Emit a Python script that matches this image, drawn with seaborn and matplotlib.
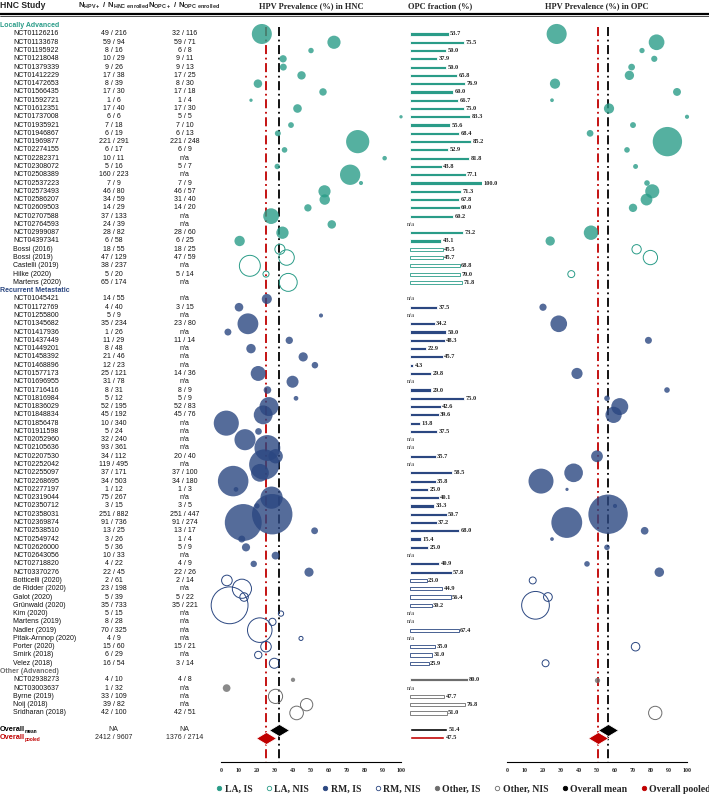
import numpy as np
import pandas as pd
import matplotlib
matplotlib.use("Agg")
import matplotlib.pyplot as plt
from matplotlib.lines import Line2D
from matplotlib.font_manager import FontProperties
import seaborn as sns

# ── Data ─────────────────────────────────────────────────────────────────────
names_la = ["NCT01126216", "NCT01133678", "NCT01195922", "NCT01218048", "NCT01379339",
            "NCT01412229", "NCT01472653", "NCT01566435", "NCT01592721", "NCT01612351",
            "NCT01737008", "NCT01935921", "NCT01946867", "NCT01969877", "NCT02274155",
            "NCT02282371", "NCT02308072", "NCT02508389", "NCT02537223", "NCT02573493",
            "NCT02586207", "NCT02609503", "NCT02707588", "NCT02764593", "NCT02999087",
            "NCT04397341", "Bossi (2016)", "Bossi (2019)", "Castelli (2019)", "Hilke (2020)",
            "Martens (2020)"]
hpv_hnc_la = [49, 59, 8, 10, 9, 17, 8, 17, 1, 17, 6, 7, 6, 221, 6, 10, 5, 160, 7, 46,
              34, 14, 37, 24, 28, 6, 18, 47, 38, 5, 65]
n_hnc_la = [216, 94, 16, 29, 26, 38, 39, 30, 6, 40, 6, 18, 19, 291, 17, 11, 16, 223, 9, 80,
            59, 29, 133, 39, 82, 58, 55, 129, 237, 20, 174]
hpv_opc_la = [32, 59, 6, 9, 9, 17, 8, 17, 1, 17, 5, 7, 6, 221, 6, None, 5, None, 7, 46,
              31, 14, None, None, 28, 6, 18, 47, None, 5, None]
n_opc_la = [116, 71, 8, 11, 13, 25, 30, 18, 4, 30, 5, 10, 13, 248, 9, None, 7, None, 9, 57,
            40, 20, None, None, 60, 25, 25, 59, None, 14, None]
frac_la = [53.7, 75.5, 50.0, 37.9, 50.0, 65.8, 76.9, 60.0, 66.7, 75.0, 83.3, 55.6, 68.4,
           85.2, 52.9, 81.8, 43.8, 77.1, 100.0, 71.3, 67.8, 69.0, 60.2, None, 73.2, 43.1,
           45.5, 45.7, 68.8, 70.0, 71.8]
nis_la = [False] * 26 + [True] * 5

names_rm = ["NCT01045421", "NCT01172769", "NCT01255800", "NCT01345682", "NCT01417936",
            "NCT01437449", "NCT01449201", "NCT01458392", "NCT01468896", "NCT01577173",
            "NCT01696955", "NCT01716416", "NCT01816984", "NCT01836029", "NCT01848834",
            "NCT01856478", "NCT01911598", "NCT02052960", "NCT02105636", "NCT02207530",
            "NCT02252042", "NCT02255097", "NCT02268695", "NCT02277197", "NCT02319044",
            "NCT02350712", "NCT02358031", "NCT02369874", "NCT02538510", "NCT02549742",
            "NCT02626000", "NCT02643056", "NCT02718820", "NCT03370276", "Botticelli (2020)",
            "de Ridder (2020)", "Galot (2020)", "Grünwald (2020)", "Kim (2020)",
            "Martens (2019)", "Nadler (2019)", "Pitak-Arnnop (2020)", "Porter (2020)",
            "Smirk (2018)", "Velez (2018)"]
hpv_hnc_rm = [14, 4, 5, 35, 1, 11, 8, 21, 12, 25, 31, 8, 5, 52, 45, 10, 5, 32, 93, 34,
              119, 37, 34, 1, 75, 3, 251, 91, 13, 3, 5, 10, 4, 22, 2, 23, 5, 35, 5, 8,
              70, 4, 15, 6, 16]
n_hnc_rm = [55, 40, 9, 234, 26, 29, 48, 46, 23, 121, 78, 31, 12, 195, 192, 340, 24, 240,
            361, 112, 495, 171, 503, 12, 267, 15, 882, 736, 25, 26, 36, 33, 22, 45, 61,
            198, 39, 733, 15, 28, 325, 9, 60, 29, 54]
hpv_opc_rm = [None, 3, None, 23, None, 11, None, None, None, 14, None, 8, 5, 52, 45, None,
              None, None, None, 20, None, 37, 34, 1, None, 3, 251, 91, 13, 1, 5, None, 4,
              22, 2, None, 5, 35, None, None, None, None, 15, None, 3]
n_opc_rm = [None, 15, None, 80, None, 14, None, None, None, 36, None, 9, 9, 83, 76, None,
            None, None, None, 40, None, 100, 180, 3, None, 5, 447, 274, 17, 4, 9, None, 9,
            26, 14, None, 22, 221, None, None, None, None, 21, None, 14]
frac_rm = [None, 37.5, None, 34.2, 50.0, 48.3, 22.9, 45.7, 4.3, 29.8, None, 29.0, 75.0,
           42.6, 39.6, 13.8, 37.5, None, None, 35.7, None, 58.5, 35.8, 25.0, 40.1, 33.3,
           50.7, 37.2, 68.0, 15.4, 25.0, None, 40.9, 57.8, 23.0, 44.9, 56.4, 30.2, None,
           None, 67.4, None, 35.0, 31.0, 25.9]
nis_rm = [False] * 34 + [True] * 11

names_ot = ["NCT02938273", "NCT03003637", "Byrne (2019)", "Noij (2018)", "Sridharan (2018)"]
hpv_hnc_ot = [4, 1, 33, 39, 42]
n_hnc_ot = [10, 32, 109, 82, 100]
hpv_opc_ot = [4, None, None, None, 42]
n_opc_ot = [8, None, None, None, 51]
frac_ot = [80.0, None, 47.7, 76.8, 51.0]
nis_ot = [False, False, True, True, True]

# overall rows
mean_hnc, mean_opc, mean_frac = 32.4, 55.9, 51.4
pooled_hnc_n, pooled_opc_n = (2412, 9607), (1376, 2714)
pooled_frac = 47.5

# ── Style ────────────────────────────────────────────────────────────────────
sns.set_theme(style="white")
plt.rcParams["font.family"] = ["Liberation Sans", "DejaVu Sans"]
plt.rcParams["mathtext.fontset"] = "custom"
plt.rcParams["mathtext.rm"] = "Liberation Sans"
plt.rcParams["mathtext.bf"] = "Liberation Sans:bold"

COL = {"LA": "#2a9c88", "RM": "#2b4781", "OT": "#6d6d6d"}
RED = "#c00000"
SERIF = "Liberation Serif"

W, H = 709, 800
ROW0, DY = 25.7, 8.28          # pixel y of row 0 and row pitch
Y_TOP, Y_AX = 16, 762


def rowy(i):
    return ROW0 + DY * i


# ── Build table ──────────────────────────────────────────────────────────────
records = []
sections = [
    ("LA", "Locally Advanced", names_la, hpv_hnc_la, n_hnc_la, hpv_opc_la, n_opc_la, frac_la, nis_la),
    ("RM", "Recurrent Metastatic", names_rm, hpv_hnc_rm, n_hnc_rm, hpv_opc_rm, n_opc_rm, frac_rm, nis_rm),
    ("OT", "Other (Advanced)", names_ot, hpv_hnc_ot, n_hnc_ot, hpv_opc_ot, n_opc_ot, frac_ot, nis_ot),
]
headers = []
row = 0
for key, title, nm, a, b, c, d, f, nis in sections:
    headers.append((row, key, title))
    row += 1
    for i in range(len(nm)):
        records.append(dict(sec=key, name=nm[i], row=row, hpv_hnc=a[i], n_hnc=b[i],
                            hpv_opc=c[i], n_opc=d[i], frac=f[i], nis=nis[i]))
        row += 1
df = pd.DataFrame(records)
for col in ["hpv_opc", "n_opc", "frac"]:
    df[col] = pd.to_numeric(df[col])
df["hnc_prev"] = df["hpv_hnc"] / df["n_hnc"] * 100
df["opc_prev"] = df["hpv_opc"] / df["n_opc"] * 100
ROW_MEAN, ROW_POOL = row + 1, row + 2

# ── Figure ───────────────────────────────────────────────────────────────────
fig = plt.figure(figsize=(W / 100, H / 100), dpi=100)


def px_axes(x0, x1):
    return fig.add_axes([x0 / W, 1 - Y_AX / H, (x1 - x0) / W, (Y_AX - Y_TOP) / H])


tax = fig.add_axes([0, 0, 1, 1])
tax.set_xlim(0, W)
tax.set_ylim(H, 0)
tax.axis("off")

ax_hnc = px_axes(221, 401)
ax_frac = px_axes(410, 482)
ax_opc = px_axes(507, 687)
ylim = ((Y_AX - ROW0) / DY, (Y_TOP - ROW0) / DY)

# bubbles
for ax, xcol, ncol, smul in [(ax_hnc, "hnc_prev", "n_hnc", 0.96), (ax_opc, "opc_prev", "n_opc", 1.8)]:
    for (sec, nis), sub in df.groupby(["sec", "nis"]):
        sub = sub.dropna(subset=[xcol, ncol])
        if sub.empty:
            continue
        c = COL[sec]
        if nis:
            sns.scatterplot(data=sub, x=xcol, y="row", size=ncol, sizes=(0, smul * 1000),
                            size_norm=(0, 1000), color=c, facecolor="none", edgecolor=c,
                            linewidth=0.7, legend=False, ax=ax, zorder=3, clip_on=False)
        else:
            sns.scatterplot(data=sub, x=xcol, y="row", size=ncol, sizes=(0, smul * 1000),
                            size_norm=(0, 1000), color=c, alpha=0.8, linewidth=0,
                            legend=False, ax=ax, zorder=3, clip_on=False)

# overall diamonds and reference lines
diamond = [(-1, 0), (0, 0.6), (1, 0), (0, -0.6), (-1, 0)]
ov = pd.DataFrame({
    "kind": ["mean", "pooled"],
    "row": [ROW_MEAN, ROW_POOL],
    "hnc": [mean_hnc, pooled_hnc_n[0] / pooled_hnc_n[1] * 100],
    "opc": [mean_opc, pooled_opc_n[0] / pooled_opc_n[1] * 100],
    "frac": [mean_frac, pooled_frac],
})
for ax, xcol in [(ax_hnc, "hnc"), (ax_opc, "opc")]:
    for kind, clr in [("mean", "black"), ("pooled", RED)]:
        sub = ov[ov["kind"] == kind]
        ax.vlines(sub[xcol], 0.2, ylim[0], colors=clr, linewidth=1.3,
                  linestyles=(0, (5, 2, 1, 2)), zorder=2)
        sns.scatterplot(data=sub, x=xcol, y="row", marker=diamond, s=210, color=clr,
                        edgecolor="white", linewidth=0.6, legend=False, ax=ax, zorder=5)

for ax in (ax_hnc, ax_opc):
    ax.set_xlim(0, 100)
    ax.set_ylim(*ylim)
    ax.set_xticks(range(0, 101, 10))
    ax.set_yticks([])
    ax.set_xlabel("")
    ax.set_ylabel("")
    ax.patch.set_alpha(0)
    for s in ["top", "right", "left"]:
        ax.spines[s].set_visible(False)
    ax.spines["bottom"].set_color("black")
    ax.spines["bottom"].set_linewidth(0.8)
    ax.tick_params(axis="x", length=0, pad=4)
    for lab in ax.get_xticklabels():
        lab.set_fontfamily(SERIF)
        lab.set_fontweight("bold")
        lab.set_fontsize(4.3)

# OPC fraction bars
for (sec, nis), sub in df.groupby(["sec", "nis"]):
    sub = sub.dropna(subset=["frac"])
    sns.barplot(data=sub, x="frac", y="row", orient="h", native_scale=True, color=COL[sec],
                width=0.38, errorbar=None, fill=not nis, linewidth=0.6, saturation=1,
                ax=ax_frac)
for kind, clr in [("mean", "black"), ("pooled", RED)]:
    sns.barplot(data=ov[ov["kind"] == kind], x="frac", y="row", orient="h", native_scale=True,
                color=clr, width=0.38, errorbar=None, saturation=1, ax=ax_frac)
ax_frac.set_xlim(0, 100)
ax_frac.set_ylim(*ylim)
ax_frac.axis("off")
for _, r in pd.concat([df[["row", "frac"]], ov[["row", "frac"]]]).iterrows():
    if np.isnan(r["frac"]):
        ax_frac.text(-4.5, r["row"], "n/a", fontsize=4.8, family=SERIF, va="center",
                     color="#333333", clip_on=False)
    else:
        ax_frac.text(r["frac"] + 2, r["row"], f"{r['frac']:.1f}", fontsize=4.6,
                     family=SERIF, weight="bold", va="center", clip_on=False)

# ── Table text ───────────────────────────────────────────────────────────────
tax.text(0, 6, "HNC Study", fontsize=6.2, weight="bold", va="center")
tax.text(113.5, 6, r"$\mathbf{N_{HPV+}\ /\ N_{HNC\ enrolled}}$", fontsize=5.6,
         ha="center", va="center")
tax.text(184.5, 6, r"$\mathbf{N_{OPC+}\ /\ N_{OPC\ enrolled}}$", fontsize=5.6,
         ha="center", va="center")
for x, t in [(311, "HPV Prevalence (%) in HNC"), (440, "OPC fraction (%)"),
             (597, "HPV Prevalence (%) in OPC")]:
    tax.text(x, 6, t, fontsize=6, family=SERIF, weight="bold", ha="center", va="center")
tax.plot([0, W], [13.6, 13.6], color="black", lw=1.6)
tax.plot([0, W], [15.8, 15.8], color="black", lw=0.5)

for r, key, title in headers:
    tax.text(0, rowy(r), title, fontsize=5, weight="bold", color=COL[key], va="center")
for _, r in df.iterrows():
    y = rowy(r["row"])
    tax.text(13, y, r["name"], fontsize=5, va="center", color="#111111")
    tax.text(113.5, y, f"{r['hpv_hnc']} / {r['n_hnc']}", fontsize=5, ha="center",
             va="center", color="#111111")
    opc_txt = "n/a" if np.isnan(r["n_opc"]) else f"{int(r['hpv_opc'])} / {int(r['n_opc'])}"
    tax.text(184.5, y, opc_txt, fontsize=5, ha="center", va="center", color="#111111")

# "Overall" labels with small subscripts
for rr, sub_txt, clr in [(ROW_MEAN, "mean", "black"), (ROW_POOL, "pooled", RED)]:
    y = rowy(rr)
    tax.text(0, y, "Overall", fontsize=5.3, weight="bold", va="center", color=clr)
    tax.text(24.5, y + 1.8, sub_txt, fontsize=3.4, weight="bold", va="center", color=clr)
tax.text(113.5, rowy(ROW_MEAN), "NA", fontsize=5, ha="center", va="center")
tax.text(184.5, rowy(ROW_MEAN), "NA", fontsize=5, ha="center", va="center")
tax.text(113.5, rowy(ROW_POOL), f"{pooled_hnc_n[0]} / {pooled_hnc_n[1]}", fontsize=5,
         ha="center", va="center")
tax.text(184.5, rowy(ROW_POOL), f"{pooled_opc_n[0]} / {pooled_opc_n[1]}", fontsize=5,
         ha="center", va="center")

# ── Legend ───────────────────────────────────────────────────────────────────
leg_items = [("LA, IS", COL["LA"], True), ("LA, NIS", COL["LA"], False),
             ("RM, IS", COL["RM"], True), ("RM, NIS", COL["RM"], False),
             ("Other, IS", COL["OT"], True), ("Other, NIS", COL["OT"], False),
             ("Overall mean", "black", True), ("Overall pooled", RED, True)]
handles = [Line2D([], [], marker="o", ls="", markersize=3.2, markeredgewidth=0.6,
                  markerfacecolor=c if filled else "white", markeredgecolor=c)
           for _, c, filled in leg_items]
fig.legend(handles, [t for t, _, _ in leg_items], loc="center",
           bbox_to_anchor=(463 / W, 1 - 789 / H), ncol=8, frameon=False,
           prop=FontProperties(family=SERIF, weight="bold", size=7),
           handletextpad=0.15, columnspacing=1.3, handlelength=0.8)

fig.savefig("out.png", dpi=100)
